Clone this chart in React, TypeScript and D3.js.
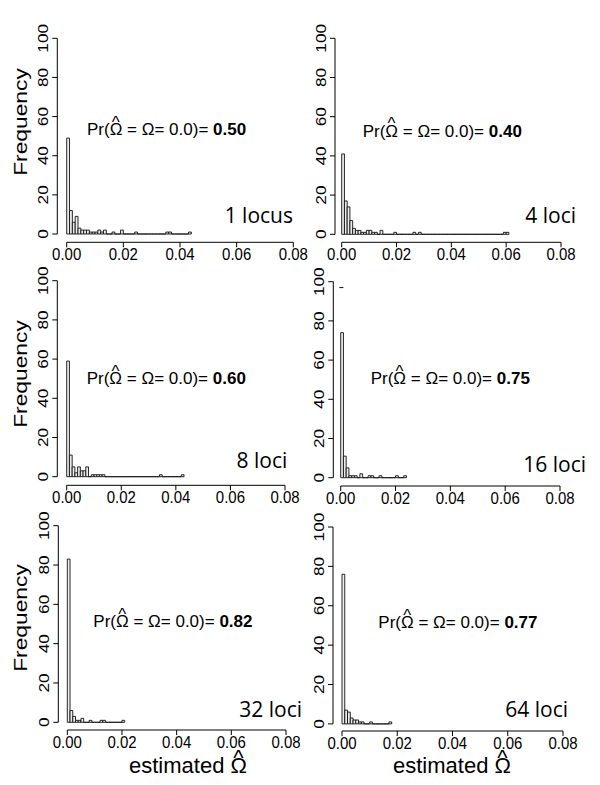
import React from 'react';
import * as d3 from 'd3';

const BIN_WIDTH = 0.001;
const xTicks = [0, 0.02, 0.04, 0.06, 0.08];
const yTicks = [0, 20, 40, 60, 80, 100];
const panelLabels = ['1 locus', '4 loci', '8 loci', '16 loci', '32 loci', '64 loci'];
const prValues = ['0.50', '0.40', '0.60', '0.75', '0.82', '0.77'];

// histogram counts per 0.001-wide bin (index = bin)
const counts1 = [49, 12, 6, 9, 3, 2, 2, 2, 1, 1, 1, 2, 1, 2, 0, 0, 1, 0, 0, 2, 0, 0, 0, 0, 1, 0, 0, 0, 0, 0, 0, 0, 0, 0, 0, 1, 1, 0, 0, 0, 0, 0, 0, 1];
const counts4 = [41, 17, 14, 7, 3, 2, 2, 1, 1, 2, 2, 1, 1, 0, 2, 0, 0, 0, 0, 1, 0, 0, 0, 0, 0, 0, 1, 0, 1, 0,
  0, 0, 0, 0, 0, 0, 0, 0, 0, 0, 0, 0, 0, 0, 0, 0, 0, 0, 0, 0, 0, 0, 0, 0, 0, 0, 0, 0, 0, 1, 1];
const counts8 = [59, 11, 5, 2, 5, 3, 3, 5, 0, 1, 1, 1, 1, 1, 0, 0, 0, 0, 0, 0, 0, 0, 0, 0, 0, 0, 0, 0, 0, 0, 0, 0, 0, 0, 1, 0, 0, 0, 0, 0, 0, 0, 1];
const counts16 = [74, 11, 5, 1, 1, 1, 0, 2, 0, 0, 1, 1, 0, 0, 1, 0, 0, 0, 0, 0, 1, 0, 0, 1];
const counts32 = [83, 6, 3, 1, 1, 2, 0, 0, 1, 0, 0, 0, 1, 1, 0, 0, 0, 0, 0, 0, 1];
const counts64 = [76, 7, 6, 3, 2, 2, 1, 1, 0, 0, 1, 0, 0, 0, 0, 0, 0, 1];
// small stray dash visible in the 16-loci panel
const stray16 = { value: 97, from: -0.0005, to: 0.001 };

const allCounts = [counts1, counts4, counts8, counts16, counts32, counts64];

const frames = [
  { ax: 57.3, x0: 66.7, x1: 293.3, yTop: 38.3, yBot: 234, xAxisY: 242.3, prX: 87, prY: 135, lblX: 293, lblY: 223, freqY: 122 },
  { ax: 335, x0: 341.7, x1: 561, yTop: 38.3, yBot: 234.3, xAxisY: 242.3, prX: 362.7, prY: 136.7, lblX: 576, lblY: 223 },
  { ax: 57.3, x0: 66.7, x1: 285, yTop: 280.7, yBot: 476.7, xAxisY: 485.3, prX: 86.7, prY: 384, lblX: 287.3, lblY: 468.3, freqY: 374 },
  { ax: 333.3, x0: 340.7, x1: 560, yTop: 281.7, yBot: 477.7, xAxisY: 486, prX: 370.7, prY: 384, lblX: 586, lblY: 471.7 },
  { ax: 58.3, x0: 67.3, x1: 286, yTop: 525.7, yBot: 722.3, xAxisY: 730, prX: 93.3, prY: 627.3, lblX: 302, lblY: 717, freqY: 618, xlabX: 188, xlabY: 773 },
  { ax: 333, x0: 342, x1: 563, yTop: 527, yBot: 723.9, xAxisY: 731, prX: 378.3, prY: 628.3, lblX: 568, lblY: 717, xlabX: 452, xlabY: 773 },
];

const FONT = "'Liberation Sans', Arial, Helvetica, sans-serif";
const LABEL_FONT = "'Open Sans', 'Liberation Sans', Arial, sans-serif";
const OMEGA_W = 0.77;
const HAT_W = 0.469;

function PrText({ x, y, value, fs }: { x: number; y: number; value: string; fs: number }) {
  const wO = OMEGA_W * fs;
  const wH = HAT_W * fs;
  const up = 0.43 * fs;
  return (
    <text x={x} y={y} fontSize={fs} fontFamily={FONT} style={{ whiteSpace: 'pre' }}>
      <tspan>Pr(</tspan>
      <tspan>Ω</tspan>
      <tspan dx={-(wO + wH) / 2} dy={-up}>^</tspan>
      <tspan dx={(wO - wH) / 2} dy={up}>{' = Ω= 0.0)= '}</tspan>
      <tspan fontWeight="bold">{value}</tspan>
    </text>
  );
}

function XLab({ x, y, fs }: { x: number; y: number; fs: number }) {
  const wO = OMEGA_W * fs;
  const wH = HAT_W * fs;
  const up = 0.36 * fs;
  return (
    <text x={x} y={y} fontSize={fs} fontFamily={FONT} textAnchor="middle" style={{ whiteSpace: 'pre' }}>
      <tspan>{'estimated Ω'}</tspan>
      <tspan dx={-(wO + wH) / 2} dy={-up}>^</tspan>
      <tspan dx={(wO - wH) / 2} dy={up}>{''}</tspan>
    </text>
  );
}

function Panel({ idx }: { idx: number }) {
  const f = frames[idx];
  const counts = allCounts[idx];
  const x = d3.scaleLinear().domain([0, 0.08]).range([f.x0, f.x1]);
  const y = d3.scaleLinear().domain([0, 100]).range([f.yBot, f.yTop]);
  const tickFs = 15;
  return (
    <g>
      {counts.map((c, i) => {
        const xa = x(i * BIN_WIDTH);
        const xb = x((i + 1) * BIN_WIDTH);
        const yt = y(c);
        const yb = y(0);
        return (
          <path key={i} d={`M${xa},${yb}V${yt}H${xb}V${yb}Z`} fill="#ececec" stroke="#111" strokeWidth={0.9} />
        );
      })}
      {idx === 3 && (
        <line x1={x(stray16.from)} x2={x(stray16.to)} y1={y(stray16.value)} y2={y(stray16.value)} stroke="#111" strokeWidth={1} />
      )}
      {/* y axis */}
      <line x1={f.ax} x2={f.ax} y1={y(0)} y2={y(100)} stroke="#000" strokeWidth={1} />
      {yTicks.map((t) => (
        <g key={t}>
          <line x1={f.ax - 5} x2={f.ax} y1={y(t)} y2={y(t)} stroke="#000" strokeWidth={1} />
          <text transform={`translate(${f.ax - 9},${y(t)}) rotate(-90) scale(1.15,1)`} textAnchor="middle" fontSize={tickFs} fontFamily={FONT}>
            {t}
          </text>
        </g>
      ))}
      {/* x axis */}
      <line x1={x(0)} x2={x(0.08)} y1={f.xAxisY} y2={f.xAxisY} stroke="#000" strokeWidth={1} />
      {xTicks.map((t) => (
        <g key={t}>
          <line x1={x(t)} x2={x(t)} y1={f.xAxisY} y2={f.xAxisY + 5} stroke="#000" strokeWidth={1} />
          <text transform={`translate(${x(t)},${f.xAxisY + 18}) scale(1,1.1)`} textAnchor="middle" fontSize={tickFs} fontFamily={FONT}>
            {d3.format('.2f')(t)}
          </text>
        </g>
      ))}
      <PrText x={f.prX} y={f.prY} value={prValues[idx]} fs={17} />
      <text x={f.lblX} y={f.lblY} textAnchor="end" fontSize={21} fontFamily={LABEL_FONT}>
        {panelLabels[idx]}
      </text>
      {f.freqY !== undefined && (
        <text transform={`translate(27,${f.freqY}) rotate(-90) scale(1.2,1)`} textAnchor="middle" fontSize={19} fontFamily={FONT}>
          Frequency
        </text>
      )}
      {f.xlabX !== undefined && <XLab x={f.xlabX} y={f.xlabY} fs={22} />}
    </g>
  );
}

export default function App() {
  return (
    <svg width={600} height={785} style={{ position: 'absolute', left: 0, top: 0, background: '#fff' }}>
      <rect x={0} y={0} width={600} height={785} fill="#fff" />
      {frames.map((_, i) => (
        <Panel key={i} idx={i} />
      ))}
    </svg>
  );
}
